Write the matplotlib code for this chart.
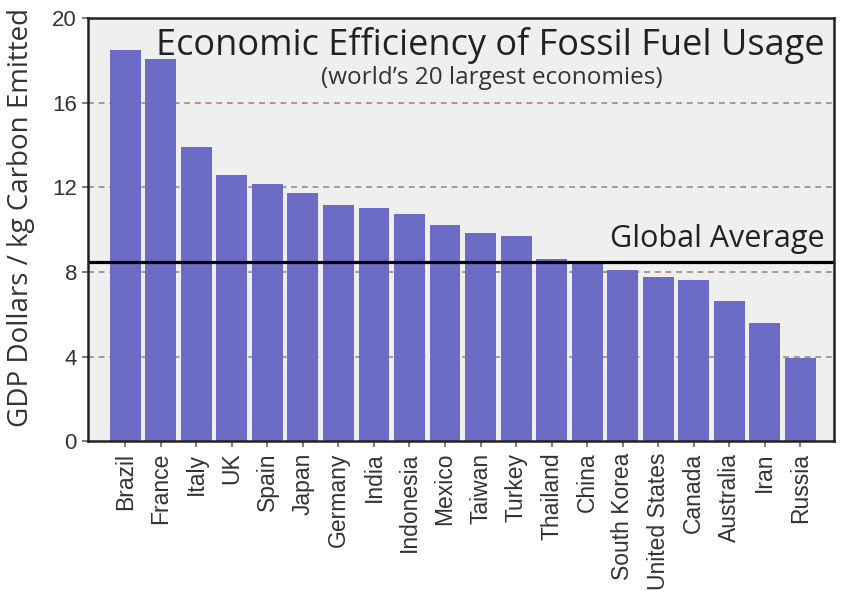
"""Economic efficiency of fossil fuel usage, 20 largest economies."""

import matplotlib
matplotlib.use("Agg")
import matplotlib.pyplot as plt
import numpy as np

countries = [
    "Brazil", "France", "Italy", "UK", "Spain", "Japan", "Germany", "India",
    "Indonesia", "Mexico", "Taiwan", "Turkey", "Thailand", "China",
    "South Korea", "United States", "Canada", "Australia", "Iran", "Russia",
]
gdp_per_kg_carbon = [
    18.49, 18.06, 13.92, 12.58, 12.18, 11.74, 11.16, 11.05,
    10.76, 10.21, 9.85, 9.71, 8.62, 8.50,
    8.09, 7.76, 7.62, 6.62, 5.60, 3.96,
]
global_average = 8.48
y_ticks = [0, 4, 8, 12, 16, 20]

BAR_COLOR = "#6c6cc7"
FACE_COLOR = "#efefef"
GRID_COLOR = "#a8988a"
TITLE_FONT = "Open Sans"
TICK_FONT = "Liberation Sans"

fig = plt.figure(figsize=(8.43, 6.01), dpi=100)
ax = fig.add_axes([0.1044, 0.2654, 0.8849, 0.7046])
ax.set_facecolor(FACE_COLOR)

x = np.arange(len(countries))
ax.bar(x, gdp_per_kg_carbon, width=0.87, color=BAR_COLOR, zorder=3)

# dashed reference lines behind the bars
for value in y_ticks[1:-1]:
    ax.axhline(value, color=GRID_COLOR, linestyle=(0, (3, 2.5)), linewidth=1.4, zorder=1)

ax.axhline(global_average, color="black", linewidth=2.3, zorder=4)

ax.set_xlim(-1.05, 19.95)
ax.set_ylim(0, 20)
ax.set_yticks(y_ticks)
ax.set_yticklabels([str(v) for v in y_ticks], fontsize=16, family=TICK_FONT, color="#333333")
ax.set_xticks(x)
ax.set_xticklabels(countries, rotation=90, fontsize=16.5, family=TICK_FONT, color="#333333")
ax.tick_params(axis="both", direction="out", length=4, width=1.2, color="#666666", pad=4)

for spine in ax.spines.values():
    spine.set_linewidth(1.8)
    spine.set_color("#222222")
    spine.set_zorder(5)

ax.set_ylabel("GDP Dollars / kg Carbon Emitted", fontsize=20, family=TITLE_FONT,
              color="#333333")
ax.yaxis.set_label_coords(-0.071, 0.528)

ax.text(0.988, 0.978, "Economic Efficiency of Fossil Fuel Usage", transform=ax.transAxes,
        ha="right", va="top", fontsize=26, family=TITLE_FONT, color="#222222", zorder=6)
ax.text(0.5416, 0.887, "(world\u2019s 20 largest economies)", transform=ax.transAxes,
        ha="center", va="top", fontsize=17.5, family=TITLE_FONT, color="#333333", zorder=6)
ax.text(0.988, 9.2, "Global Average", transform=ax.get_yaxis_transform(),
        ha="right", va="baseline", fontsize=22, family=TITLE_FONT, color="#222222", zorder=6)

fig.savefig("out.png", dpi=100, facecolor="white")
